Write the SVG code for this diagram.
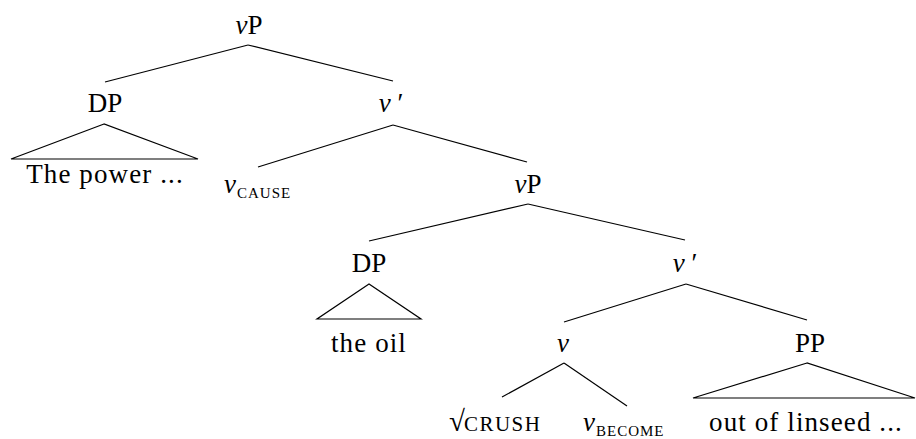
<svg xmlns="http://www.w3.org/2000/svg" width="916" height="439" viewBox="0 0 916 439">
<style>
text{font-family:"Liberation Serif","Times New Roman",serif;font-size:27px;fill:#000}
.m{text-anchor:middle}
.i{font-style:italic}
.sub{font-size:15px;letter-spacing:1px}
.sc{font-size:21px;letter-spacing:1.5px}
.ph{letter-spacing:1.1px}
.e line,.e polygon{stroke:#000;stroke-width:1.2;fill:none}
</style>
<rect width="916" height="439" fill="#fff"/>
<g id="connectors" class="e">
<line x1="248" y1="45" x2="105" y2="82"/>
<line x1="248" y1="45" x2="393" y2="81"/>
<polygon points="104,124 11,159 198,159"/>
<line x1="393" y1="125" x2="258" y2="167"/>
<line x1="393" y1="125" x2="527" y2="162"/>
<line x1="528" y1="204" x2="369" y2="241"/>
<line x1="528" y1="204" x2="685" y2="240"/>
<polygon points="369,284 317,319 421,319"/>
<line x1="686" y1="284" x2="564" y2="322"/>
<line x1="686" y1="284" x2="807" y2="320"/>
<line x1="564" y1="363" x2="502" y2="397"/>
<line x1="564" y1="363" x2="627" y2="406"/>
<polygon points="807,363 693,398 915,398"/>
</g>
<g id="vP1"><text class="m" x="249" y="34"><tspan class="i">ν</tspan>P</text></g>
<g id="DP1"><text class="m" x="105" y="112">DP</text></g>
<g id="vbar1"><text class="m" x="391" y="112"><tspan class="i">ν</tspan> ′</text></g>
<g id="thepower"><text class="m ph" x="105" y="183">The power ...</text></g>
<g id="vcause"><text x="224" y="193"><tspan class="i">ν</tspan><tspan class="sub" dx="1" dy="5">CAUSE</tspan></text></g>
<g id="vP2"><text class="m" x="528" y="193"><tspan class="i">ν</tspan>P</text></g>
<g id="DP2"><text class="m" x="369" y="272">DP</text></g>
<g id="vbar2"><text class="m" x="685" y="272"><tspan class="i">ν</tspan> ′</text></g>
<g id="theoil"><text class="m ph" x="369" y="352">the oil</text></g>
<g id="v3"><text class="m i" x="563" y="352">ν</text></g>
<g id="PP"><text class="m" x="810" y="352">PP</text></g>
<g id="crush"><text x="449" y="431" style="font-size:29px">√<tspan class="sc" dx="-1">CRUSH</tspan></text></g>
<g id="vbecome"><text x="583" y="431"><tspan class="i">ν</tspan><tspan class="sub" dx="1" dy="5">BECOME</tspan></text></g>
<g id="outof"><text class="m ph" x="806" y="431">out of linseed ...</text></g>
</svg>
